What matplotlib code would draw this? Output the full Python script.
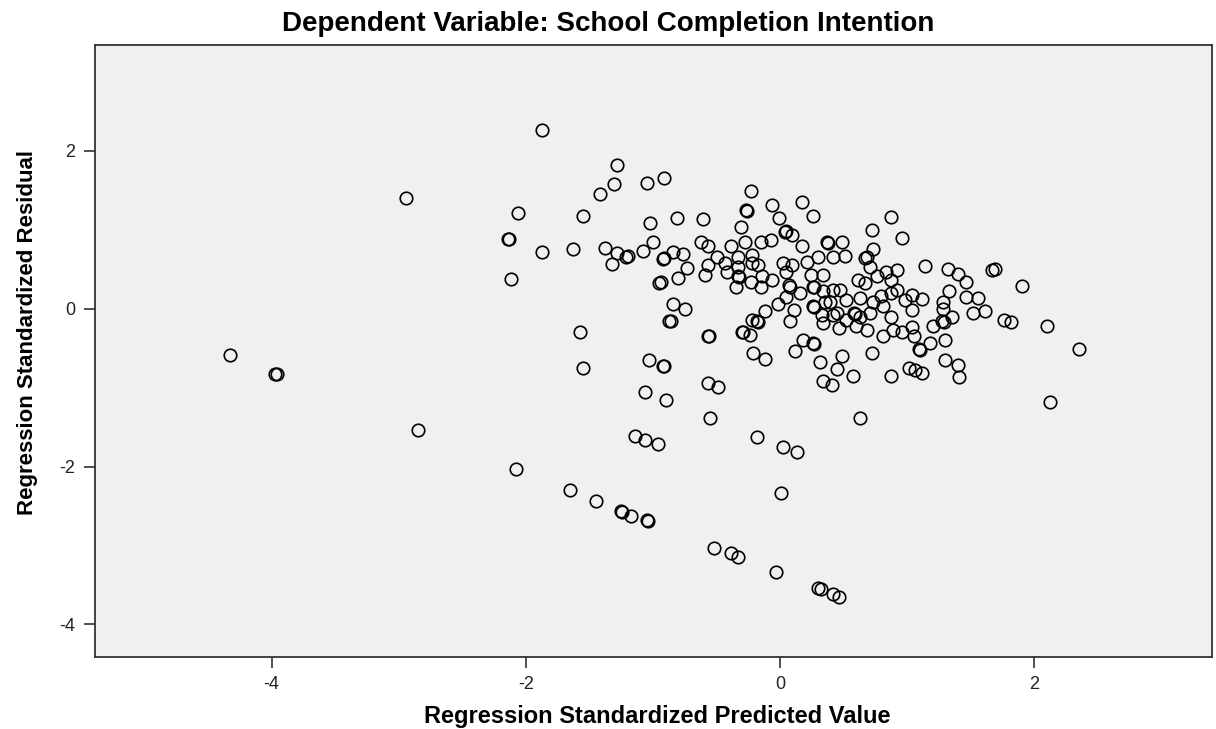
import matplotlib
matplotlib.use('Agg')
import matplotlib.pyplot as plt

plt.rcParams['font.family'] = ['Liberation Sans', 'DejaVu Sans']

# standardized predicted value (x) and standardized residual (y)
pred = [
    -1.87, -2.94, -1.28, -1.31, -1.42, -1.05, -0.91, -2.06, -1.55, -1.02,
    -0.81, -2.13, -2.14, -1.87, -1.63, -1.38, -1.28, -1.21, -1.20, -1.32,
    -1.08, -1.00, -0.92, -0.91, -0.84, -0.95, -0.94, -0.80, -2.12, -0.84,
    -0.87, -0.86, -1.57,
    -0.61, -0.23, -0.06, 0.17, 0.26, -0.27, -0.26, -0.31, -0.01, 0.04,
    0.05, 0.09, 0.37, 0.38, 0.49, 0.17, -0.76, -0.73, -0.62, -0.57,
    -0.39, -0.28, -0.15, -0.07, -0.50, -0.43, -0.33, -0.22, -0.57, -0.59,
    -0.42, -0.33, -0.33, -0.32, -0.17, -0.22, -0.35, -0.23, -0.14, -0.06,
    -0.15, 0.02, 0.09, 0.05, 0.21, 0.30, 0.42, 0.51, 0.24, 0.34,
    0.08, 0.16, 0.26, 0.27, 0.34, 0.47, 0.05, -0.02, -0.12, 0.11,
    0.26, 0.27, 0.35, 0.52, 0.45, 0.52, -0.22, -0.18, -0.17, -0.30,
    -0.29, -0.24, 0.08, 0.34, 0.46, 0.18, 0.26, 0.27, -0.57, -0.56,
    -0.75,
    0.87, 0.72, 0.96, 0.73, 0.67, 0.68, 1.14, 1.32, 1.40, 1.46,
    1.67, 1.69, 1.90, 0.92, 0.83, 0.76, 0.71, 0.07, 0.42, 0.61,
    0.67, 0.87, 0.92, 0.87, 0.79, 1.04, 1.12, 0.98, 1.28, 1.33,
    1.46, 1.56, 1.28, 1.35, 1.27, 1.29, 1.20, 1.52, 1.61, 1.76,
    1.82, 2.10, 1.04, 1.04, 1.05, 0.96, 0.89, 0.81, 0.87, 0.81,
    0.73, 0.71, 0.58, 0.59, 0.68, 0.60, 0.63, 0.33, 0.12, -0.21,
    -0.12, 0.49, 0.72, 0.31, 0.45, 0.57, 0.34, 0.41, 0.87, 1.01,
    1.06, 1.12, 1.09, 1.10, 1.18, 1.30, 1.30, 1.40, 1.41, 2.12,
    2.35, 0.39, 0.63, 0.42,
    -1.55, -1.03, -0.92, -0.91, -1.06, -0.90, -0.57, -0.49, -0.55, -1.14,
    -1.06, -0.96, -0.18, 0.02, 0.13, -2.08, -1.65, -1.45, -1.25, -1.24,
    -1.17, -1.05, -1.04, -0.52, -0.39, -0.33, -0.03, 0.30, 0.32, 0.42,
    0.46, 0.01, -2.85, 0.63, -4.33, -3.97, -3.96,
]
resid = [
    2.27, 1.41, 1.82, 1.58, 1.46, 1.59, 1.66, 1.21, 1.18, 1.09,
    1.15, 0.89, 0.88, 0.72, 0.76, 0.77, 0.71, 0.66, 0.67, 0.57,
    0.73, 0.84, 0.63, 0.64, 0.72, 0.33, 0.34, 0.39, 0.38, 0.06,
    -0.15, -0.16, -0.30,
    1.14, 1.49, 1.32, 1.35, 1.18, 1.25, 1.24, 1.04, 1.15, 0.97,
    0.98, 0.94, 0.84, 0.83, 0.84, 0.80, 0.70, 0.52, 0.84, 0.80,
    0.80, 0.84, 0.84, 0.87, 0.65, 0.58, 0.66, 0.68, 0.56, 0.43,
    0.47, 0.53, 0.41, 0.40, 0.56, 0.58, 0.27, 0.34, 0.41, 0.37,
    0.27, 0.58, 0.56, 0.47, 0.59, 0.65, 0.66, 0.67, 0.43, 0.43,
    0.28, 0.20, 0.28, 0.27, 0.22, 0.24, 0.15, 0.06, -0.03, -0.01,
    0.03, 0.02, 0.09, 0.11, -0.05, -0.14, -0.14, -0.16, -0.17, -0.29,
    -0.30, -0.33, -0.16, -0.18, -0.24, -0.39, -0.43, -0.44, -0.34, -0.35,
    0.00,
    1.16, 1.00, 0.90, 0.76, 0.64, 0.65, 0.54, 0.51, 0.44, 0.34,
    0.49, 0.50, 0.29, 0.49, 0.47, 0.42, 0.53, 0.30, 0.24, 0.37,
    0.33, 0.37, 0.24, 0.20, 0.16, 0.18, 0.13, 0.11, 0.09, 0.23,
    0.15, 0.14, 0.00, -0.11, -0.16, -0.17, -0.22, -0.05, -0.03, -0.14,
    -0.17, -0.22, -0.02, -0.23, -0.35, -0.29, -0.27, -0.35, -0.11, 0.03,
    0.09, -0.05, -0.05, -0.06, -0.27, -0.22, 0.14, -0.08, -0.54, -0.56,
    -0.63, -0.60, -0.56, -0.68, -0.76, -0.85, -0.92, -0.96, -0.85, -0.75,
    -0.77, -0.81, -0.51, -0.52, -0.43, -0.39, -0.65, -0.71, -0.86, -1.18,
    -0.51, 0.08, -0.11, -0.08,
    -0.75, -0.65, -0.72, -0.73, -1.06, -1.15, -0.94, -0.99, -1.38, -1.61,
    -1.66, -1.71, -1.62, -1.75, -1.82, -2.03, -2.30, -2.43, -2.56, -2.57,
    -2.62, -2.68, -2.69, -3.03, -3.10, -3.15, -3.34, -3.54, -3.55, -3.62,
    -3.65, -2.33, -1.53, -1.38, -0.59, -0.82, -0.83,
]

x_ticks = [-4, -2, 0, 2]
y_ticks = [-4, -2, 0, 2]

fig = plt.figure(figsize=(12.16, 7.29), dpi=100)
ax = fig.add_axes([0.078, 0.099, 0.919, 0.839])
ax.set_facecolor('#f0f0f0')

ax.plot(pred, resid, linestyle='none', marker='o', markersize=9,
        markerfacecolor='none', markeredgecolor='black', markeredgewidth=1.2)

ax.set_xlim(-5.39, 3.40)
ax.set_ylim(-4.41, 3.34)
ax.set_xticks(x_ticks)
ax.set_yticks(y_ticks)
ax.set_xticklabels([str(v) for v in x_ticks], fontsize=13)
ax.set_yticklabels([str(v) for v in y_ticks], fontsize=13)
ax.tick_params(direction='out', length=8, width=1.2, color='#333333',
               labelcolor='#222222', pad=6)
for s in ax.spines.values():
    s.set_color('#333333')
    s.set_linewidth(1.3)

# title sits centred on the whole figure, not on the plot area
fig.text(0.5, 0.967, 'Dependent Variable: School Completion Intention',
         ha='center', va='center', fontsize=20, fontweight='bold')

ax.set_xlabel('Regression Standardized Predicted Value', fontsize=17,
              fontweight='bold')
ax.xaxis.set_label_coords(0.503, -0.097)
ax.xaxis.label.set_va('center')
ax.set_ylabel('Regression Standardized Residual', fontsize=16,
              fontweight='bold')
ax.yaxis.set_label_coords(-0.060, 0.53)
ax.yaxis.label.set_va('center')

fig.savefig('out.png', dpi=100)
